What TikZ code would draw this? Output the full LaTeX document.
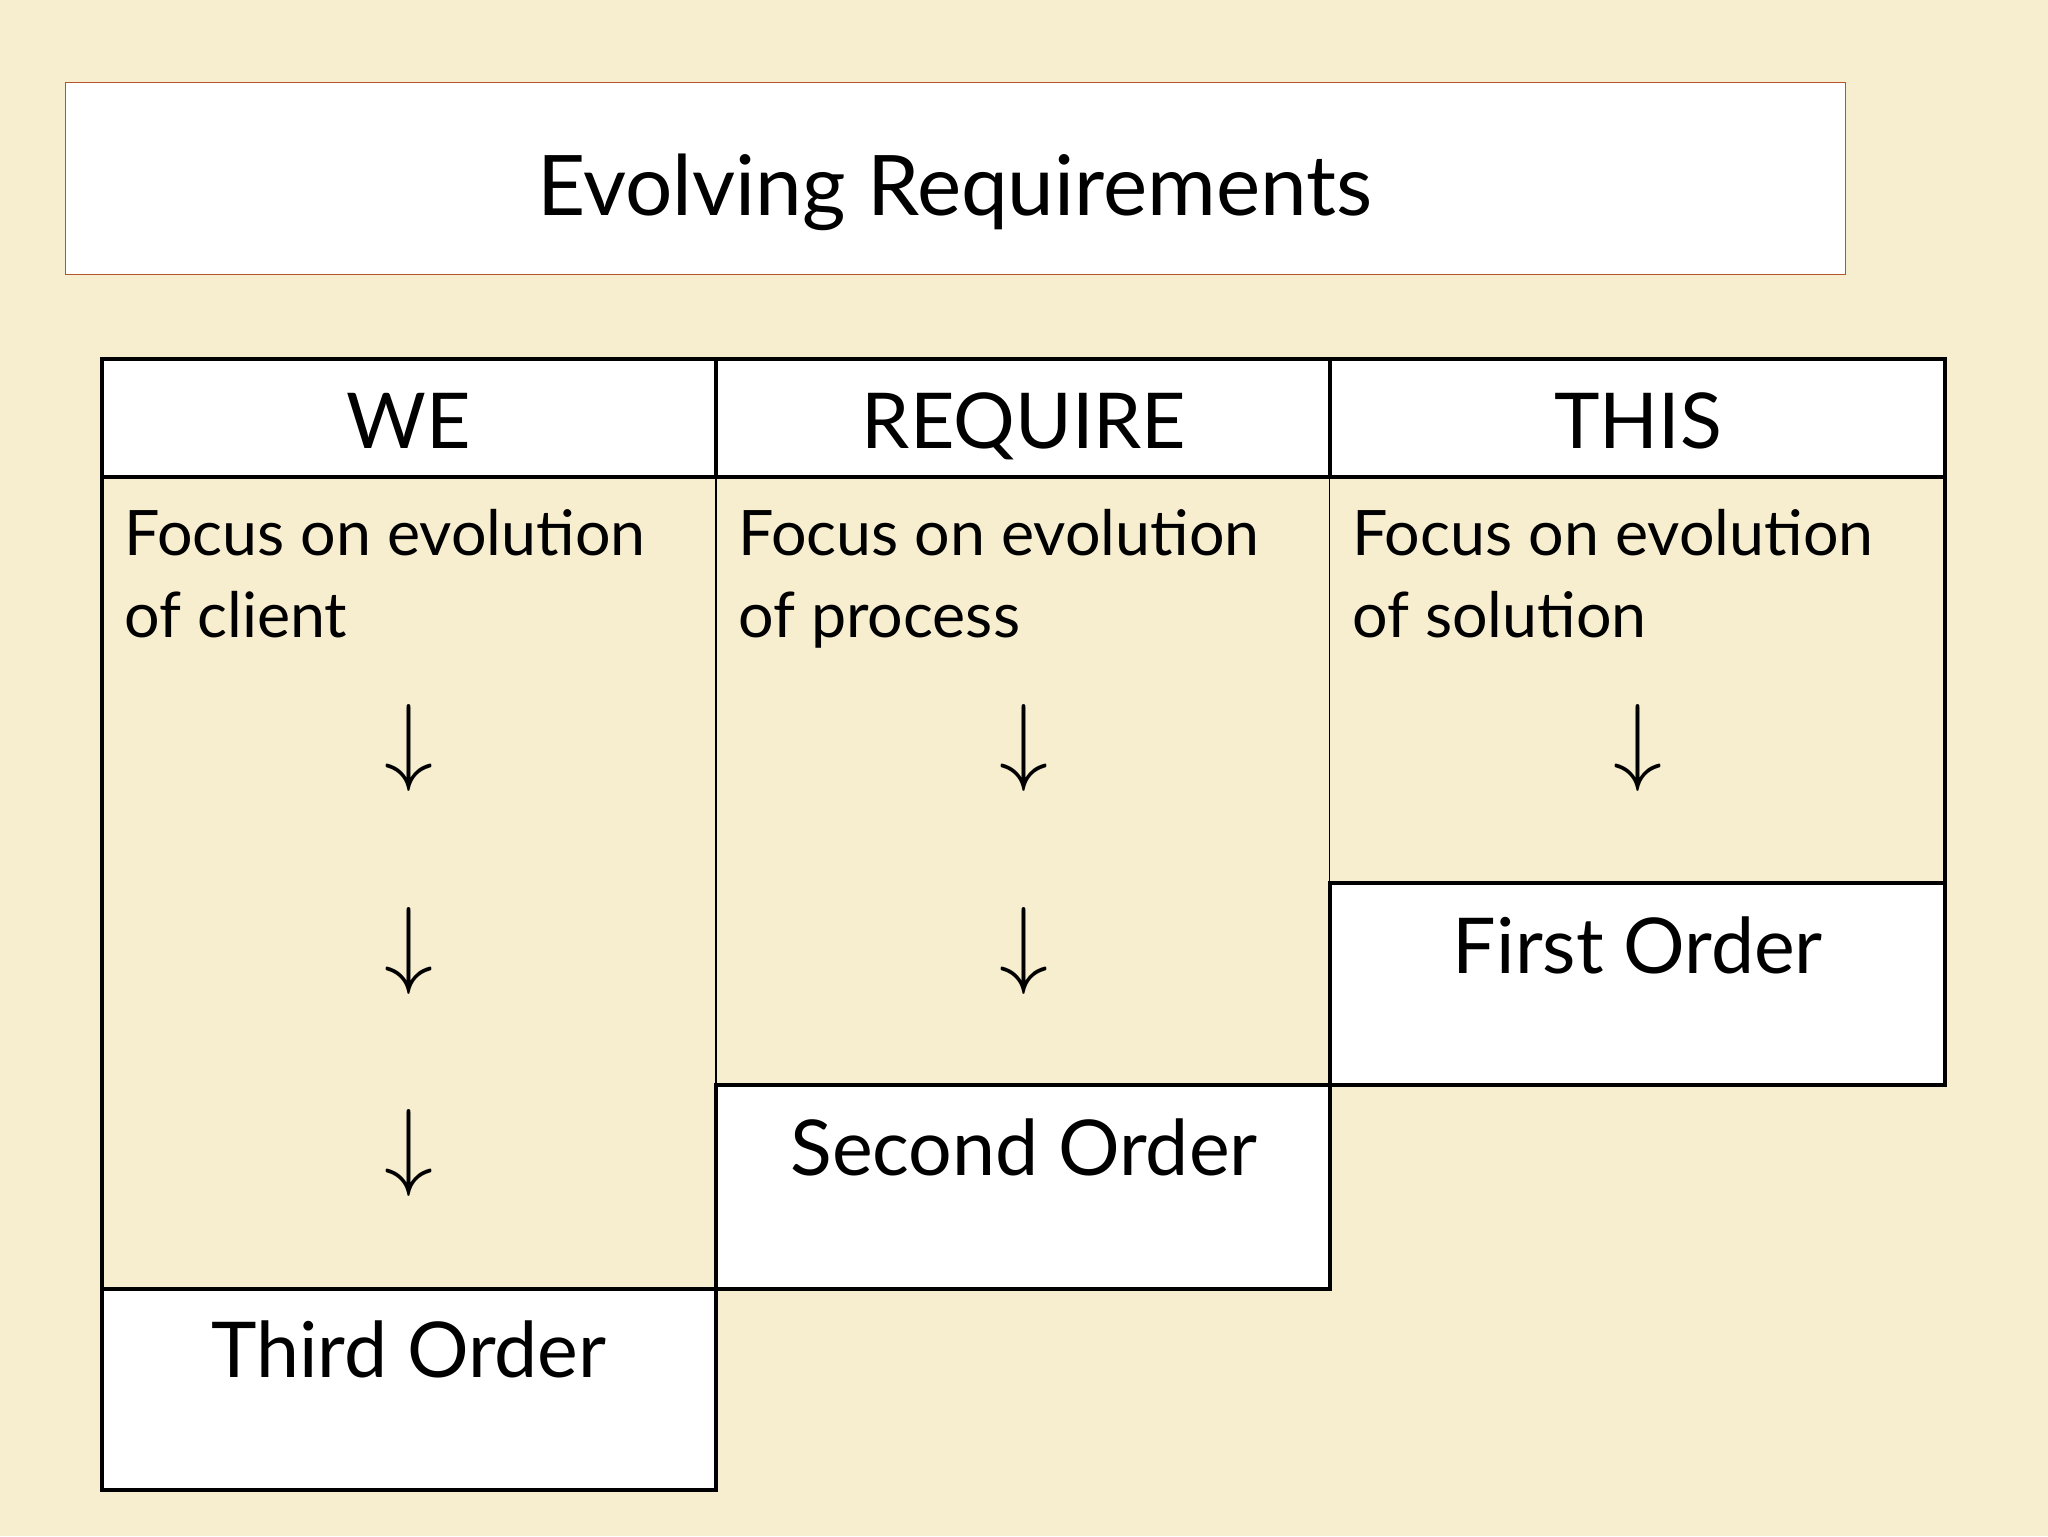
\documentclass[tikz,border=0pt]{standalone}
\usepackage{fontspec}
\setmainfont{Lato}
\definecolor{bg}{HTML}{F7EDCF}
\definecolor{tb}{HTML}{B5562A}
\begin{document}
\begin{tikzpicture}[x=1pt,y=-1pt,
  thick line/.style={line width=3.2pt},
  thin line/.style={line width=1.2pt},
  hdr/.style={anchor=base,font=\fontsize{59}{60}\selectfont},
  body/.style={anchor=base west,inner sep=0pt,font=\fontsize{48}{50}\selectfont},
  arr/.style={anchor=center,inner sep=0pt},
  ord/.style={anchor=base,font=\fontsize{59}{60}\selectfont}]
\fill[bg] (0,0) rectangle (1568,1176);
\useasboundingbox (0,0) rectangle (1568,1176);
% title
\draw[tb,fill=white,line width=1.2pt] (50,63) rectangle (1413,210);
\node[anchor=base,font=\fontsize{64}{66}\selectfont] (title) at (731,165) {Evolving Requirements};
% header
\draw[thick line,fill=white] (78,275) rectangle (1489,365);
\draw[thick line] (548,275) -- (548,365) (1018,275) -- (1018,365);
\node[hdr] (h1) at (313,343) {WE};
\node[hdr] (h2) at (784,343) {REQUIRE};
\node[hdr] (h3) at (1254,343) {THIS};
% body lines
\draw[thick line] (78,365) -- (78,987);
\draw[thin line] (548,365) -- (548,831);
\draw[thin line] (1018,365) -- (1018,676);
\draw[thick line] (1489,365) -- (1489,676);
% order boxes
\draw[thick line,fill=white] (1018,676) rectangle (1489,831);
\draw[thick line,fill=white] (548,831) rectangle (1018,987);
\draw[thick line,fill=white] (78,987) rectangle (548,1141);
\node[ord] (o1) at (1254,745) {First Order};
\node[ord] (o2) at (784,900) {Second Order};
\node[ord] (o3) at (313,1055) {Third Order};
% body text
\node[body] (b1a) at (95,425) {Focus on evolution};
\node[body] (b1b) at (95,488) {of client};
\node[body] (b2a) at (565,425) {Focus on evolution};
\node[body] (b2b) at (565,488) {of process};
\node[body] (b3a) at (1035,425) {Focus on evolution};
\node[body] (b3b) at (1035,488) {of solution};
% arrows
\newcommand{\myarr}{\scalebox{7.5}{$\downarrow$}}
\node[arr] (a11) at (313,573) {\myarr};
\node[arr] (a12) at (313,728) {\myarr};
\node[arr] (a13) at (313,883) {\myarr};
\node[arr] (a21) at (784,573) {\myarr};
\node[arr] (a22) at (784,728) {\myarr};
\node[arr] (a31) at (1254,573) {\myarr};
\end{tikzpicture}
\end{document}
